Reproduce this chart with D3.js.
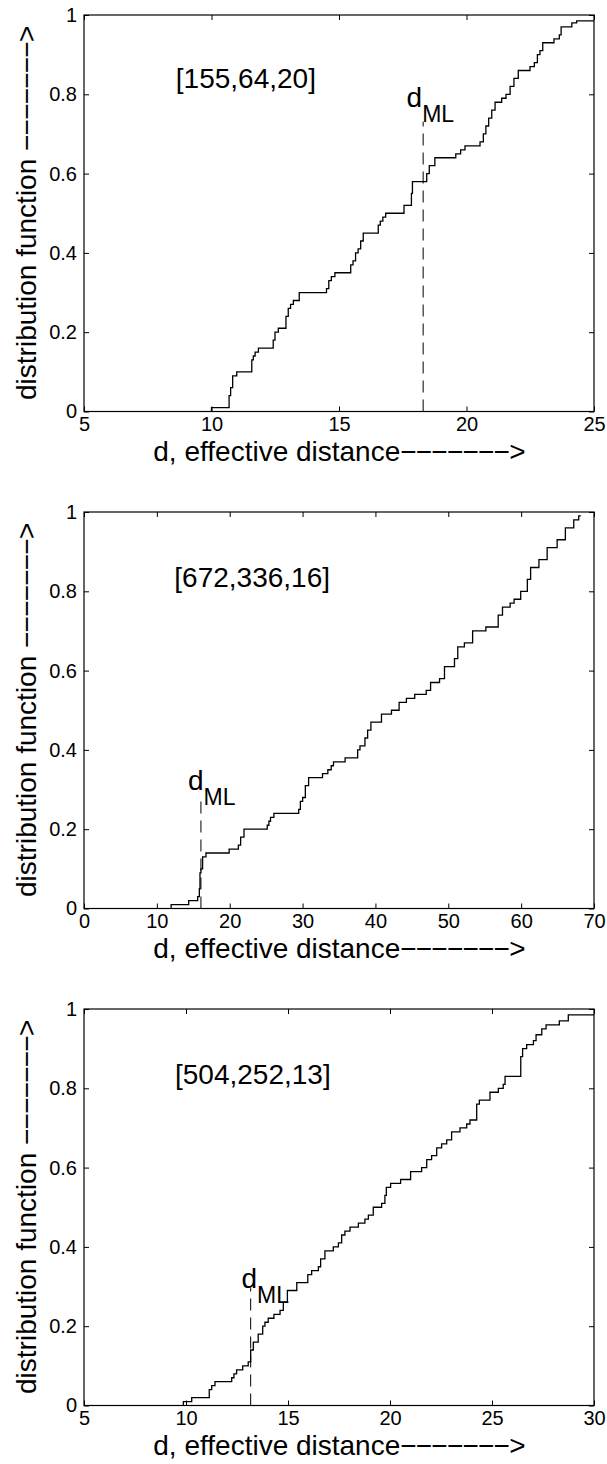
<!DOCTYPE html>
<html>
<head>
<meta charset="utf-8">
<script src="https://cdn.jsdelivr.net/npm/d3@7"></script>
<style>
body { margin: 0; background: #fff; }
text { font-family: "Liberation Sans", Arial, Helvetica, sans-serif; fill: #000; }
</style>
</head>
<body>
<div id="chart"></div>
<script>
// step points (distance, distribution value)
var dist1 = [10.0, 10.69, 10.75, 10.83, 10.99, 11.58, 11.64, 11.71, 11.84, 12.42, 12.49, 12.62, 12.92, 13.01, 13.1, 13.21, 13.44,
    14.51, 14.6, 14.7, 14.84, 15.46, 15.55, 15.65, 15.75, 15.85, 15.95, 16.54, 16.62, 16.72, 16.83, 17.55, 17.84, 17.88,
    18.44, 18.54, 18.76, 19.58, 19.77, 19.94, 20.53, 20.66, 20.76, 20.87, 20.99, 21.12, 21.38, 21.55, 21.71, 21.86, 22.03,
    22.49, 22.66, 22.78, 22.88, 22.99, 23.43, 23.64, 23.71, 24.13, 24.32];
var cdf1 = [0.01, 0.04, 0.06, 0.09, 0.10, 0.13, 0.14, 0.15, 0.16, 0.18, 0.20, 0.21, 0.24, 0.26, 0.27, 0.28, 0.30,
    0.31, 0.33, 0.34, 0.35, 0.37, 0.38, 0.40, 0.41, 0.43, 0.45, 0.47, 0.48, 0.49, 0.50, 0.52, 0.55, 0.58,
    0.60, 0.62, 0.64, 0.65, 0.66, 0.67, 0.68, 0.70, 0.72, 0.74, 0.76, 0.78, 0.79, 0.80, 0.82, 0.84, 0.86,
    0.87, 0.88, 0.90, 0.91, 0.93, 0.94, 0.95, 0.97, 0.98, 0.985];

var dist2 = [11.96, 14.37, 15.6, 15.83, 15.92, 16.05, 16.28, 16.74, 19.92, 21.19, 21.5, 21.96, 25.15, 25.38, 25.6, 26.06,
    29.47, 29.7, 30.01, 30.38, 30.83, 32.74, 33.47, 33.93, 34.24, 35.84, 37.56, 37.88, 38.56, 38.93, 39.38, 40.83, 42.2,
    43.25, 44.25, 45.39, 46.97, 47.57, 48.8, 49.48, 50.85, 51.3, 52.21, 53.34, 55.16, 56.85, 57.44, 58.49, 59.03, 59.94,
    60.85, 61.3, 62.44, 63.57, 64.94, 66.07, 67.22, 67.9];
var cdf2 = [0.01, 0.02, 0.03, 0.05, 0.09, 0.10, 0.13, 0.14, 0.15, 0.16, 0.18, 0.20, 0.21, 0.22, 0.23, 0.24,
    0.25, 0.27, 0.28, 0.31, 0.33, 0.34, 0.35, 0.36, 0.37, 0.38, 0.40, 0.41, 0.43, 0.45, 0.47, 0.49, 0.50,
    0.52, 0.53, 0.54, 0.55, 0.57, 0.58, 0.61, 0.63, 0.66, 0.67, 0.70, 0.71, 0.74, 0.76, 0.77, 0.78, 0.80,
    0.83, 0.86, 0.88, 0.91, 0.93, 0.96, 0.98, 0.99];

var dist3 = [9.87, 10.28, 11.14, 11.26, 11.42, 12.24, 12.35, 12.48, 12.78, 13.05, 13.17, 13.3, 13.54, 13.76, 13.87, 14.03,
    14.31, 14.61, 14.77, 14.97, 15.43, 15.97, 16.16, 16.49, 16.6, 16.81, 17.22, 17.47, 17.63, 17.79, 18.04, 18.45, 18.77,
    18.94, 19.18, 19.59, 19.75, 19.82, 20.03, 20.52, 21.01, 21.55, 21.8, 22.04, 22.29, 22.53, 22.78, 23.02, 23.43, 23.76,
    23.92, 24.25, 24.38, 24.9, 25.31, 25.55, 25.64, 26.41, 26.5, 26.7, 27.03, 27.16, 27.44, 27.65, 28.3, 28.74];
var cdf3 = [0.01, 0.02, 0.04, 0.05, 0.06, 0.07, 0.08, 0.09, 0.10, 0.11, 0.14, 0.16, 0.18, 0.20, 0.21, 0.22,
    0.23, 0.24, 0.26, 0.29, 0.31, 0.33, 0.34, 0.35, 0.37, 0.39, 0.40, 0.41, 0.43, 0.44, 0.45, 0.46, 0.47,
    0.48, 0.50, 0.51, 0.53, 0.55, 0.56, 0.57, 0.59, 0.60, 0.62, 0.63, 0.65, 0.66, 0.67, 0.69, 0.70, 0.71,
    0.72, 0.76, 0.77, 0.79, 0.80, 0.81, 0.83, 0.88, 0.90, 0.91, 0.92, 0.935, 0.95, 0.96, 0.97, 0.985];

// axis ranges and ticks
var xDomains = [[5, 25], [0, 70], [5, 30]];
var lastDist = [25, 68.2, 30];
var xTicks1 = [5, 10, 15, 20, 25];
var xTicks2 = [0, 10, 20, 30, 40, 50, 60, 70];
var xTicks3 = [5, 10, 15, 20, 25, 30];
var yTicks = [0, 0.2, 0.4, 0.6, 0.8, 1];

// annotations
var codeLabels = ["[155,64,20]", "[672,336,16]", "[504,252,13]"];
var codeLabelX = [8.6, 12.4, 9.46];
var codeLabelY = [0.815, 0.81, 0.811];
var dML = [18.3, 16.05, 13.17];
var dMLTop = [0.731, 0.273, 0.296];
var dMLLabelX = [17.65, 14.26, 12.72];
var dMLLabelY = [0.768, 0.298, 0.297];

var xTitle = "d, effective distance";
var yTitle = "distribution function ";
var arrow = "\u2212\u2212\u2212\u2212\u2212\u2212\u2212>";

var panels = [
    {dist: dist1, cdf: cdf1, xTicks: xTicks1},
    {dist: dist2, cdf: cdf2, xTicks: xTicks2},
    {dist: dist3, cdf: cdf3, xTicks: xTicks3}
];

// layout
var width = 607, height = 1464;
var left = 84, plotW = 510, plotH = 396.5;
var tops = [15, 512, 1009];

var svg = d3.select("#chart").append("svg")
    .attr("width", width)
    .attr("height", height);

panels.forEach(function (p, i) {
    var g = svg.append("g")
        .attr("transform", "translate(" + left + "," + tops[i] + ")");

    var x = d3.scaleLinear().domain(xDomains[i]).range([0, plotW]);
    var y = d3.scaleLinear().domain([0, 1]).range([plotH, 0]);

    // axes, ticks pointing inward on all four sides
    var bottom = g.append("g")
        .attr("transform", "translate(0," + plotH + ")")
        .call(d3.axisBottom(x).tickValues(p.xTicks).tickSizeInner(-5).tickSizeOuter(0)
            .tickPadding(5).tickFormat(d3.format("d")));
    g.append("g")
        .call(d3.axisTop(x).tickValues(p.xTicks).tickSizeInner(-5).tickSizeOuter(0).tickFormat(""));
    var leftAx = g.append("g")
        .call(d3.axisLeft(y).tickValues(yTicks).tickSizeInner(-5).tickSizeOuter(0)
            .tickPadding(7).tickFormat(d3.format("~g")));
    g.append("g")
        .attr("transform", "translate(" + plotW + ",0)")
        .call(d3.axisRight(y).tickValues(yTicks).tickSizeInner(-5).tickSizeOuter(0).tickFormat(""));

    g.selectAll(".domain").remove();
    g.selectAll(".tick line").attr("stroke", "#000").attr("stroke-width", 1);
    bottom.selectAll("text").attr("font-size", 20).attr("font-family", null);
    leftAx.selectAll("text").attr("font-size", 20).attr("font-family", null);

    g.append("rect")
        .attr("width", plotW)
        .attr("height", plotH)
        .attr("fill", "none")
        .attr("stroke", "#000")
        .attr("stroke-width", 1.2);

    // staircase
    var pts = [{x: p.dist[0], y: 0}];
    p.dist.forEach(function (d, j) {
        pts.push({x: d, y: p.cdf[j]});
    });
    pts.push({x: lastDist[i], y: p.cdf[p.cdf.length - 1]});

    var line = d3.line()
        .x(function (d) { return x(d.x); })
        .y(function (d) { return y(d.y); })
        .curve(d3.curveStepAfter);

    g.append("path")
        .datum(pts)
        .attr("d", line)
        .attr("fill", "none")
        .attr("stroke", "#000")
        .attr("stroke-width", 1.3);

    // d_ML marker
    g.append("line")
        .attr("x1", x(dML[i])).attr("x2", x(dML[i]))
        .attr("y1", y(0)).attr("y2", y(dMLTop[i]))
        .attr("stroke", "#000")
        .attr("stroke-width", 1)
        .attr("stroke-dasharray", "12,7");

    var lab = g.append("text")
        .attr("x", x(dMLLabelX[i]))
        .attr("y", y(dMLLabelY[i]))
        .attr("font-size", 28);
    lab.append("tspan").text("d");
    lab.append("tspan").attr("font-size", 23).attr("dy", 15).text("ML");

    g.append("text")
        .attr("x", x(codeLabelX[i]))
        .attr("y", y(codeLabelY[i]))
        .attr("font-size", 28)
        .text(codeLabels[i]);

    // axis titles
    var xt = g.append("text")
        .attr("x", plotW / 2)
        .attr("y", plotH + 49)
        .attr("text-anchor", "middle")
        .attr("font-size", 28);
    xt.append("tspan").text(xTitle);
    xt.append("tspan").attr("letter-spacing", -0.8).text(arrow);

    var yt = g.append("text")
        .attr("transform", "translate(" + (36 - left) + "," + (plotH / 2) + ") rotate(-90)")
        .attr("text-anchor", "middle")
        .attr("font-size", 28);
    yt.append("tspan").text(yTitle);
    yt.append("tspan").attr("letter-spacing", -0.8).text(arrow);
});
</script>
</body>
</html>
